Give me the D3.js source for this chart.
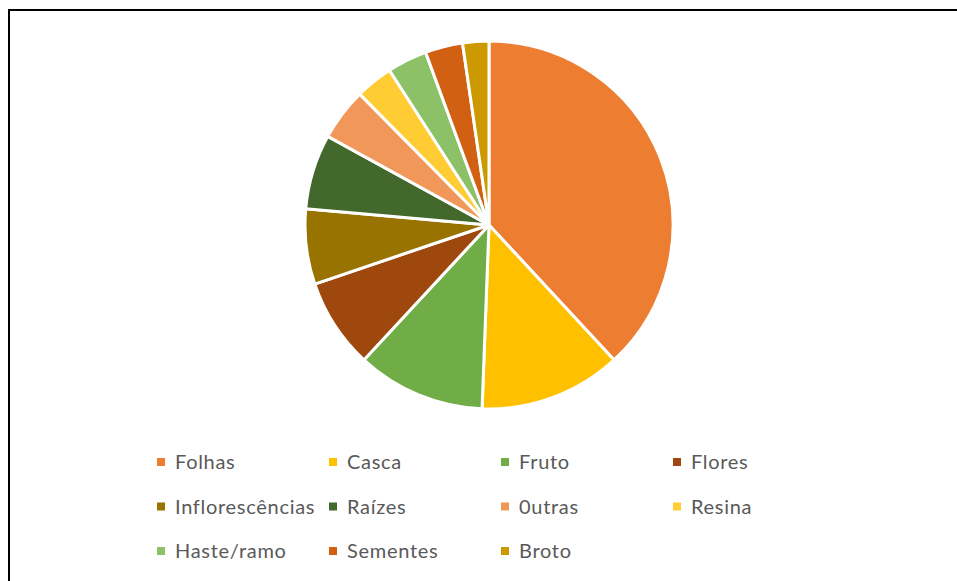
<!DOCTYPE html>
<html>
<head>
<meta charset="utf-8">
<script src="https://cdn.jsdelivr.net/npm/d3@7"></script>
<style>
  html, body { margin: 0; padding: 0; background: #fff; }
  svg { display: block; }
</style>
</head>
<body>
<svg id="chart" width="957" height="581"></svg>
<script>
// Plant parts (share of records, %)
const categories = ["Folhas", "Casca", "Fruto", "Flores", "Inflorescências", "Raízes",
                    "0utras", "Resina", "Haste/ramo", "Sementes", "Broto"];
const values = [38.1, 12.5, 11.3, 7.9, 6.6, 6.6, 4.6, 3.3, 3.5, 3.3, 2.3];
const colors = ["#ED7D31", "#FFC000", "#70AD47", "#9E480E", "#997300", "#43682B",
                "#F1975A", "#FFCD33", "#8CC168", "#D26012", "#CC9A00"];

const svg = d3.select("#chart");
const W = 957, H = 581;

// chart frame
svg.append("path")
  .attr("d", `M9,${H + 2} L9,10 L${W + 2},10`)
  .attr("fill", "none")
  .attr("stroke", "#000")
  .attr("stroke-width", 2);

// pie
const cx = 489, cy = 225, r = 184;
const pie = d3.pie().sort(null).value(d => d.v);
const arc = d3.arc().innerRadius(0).outerRadius(r);
const data = categories.map((c, i) => ({ c, v: values[i], col: colors[i] }));

svg.append("g")
  .attr("transform", `translate(${cx},${cy})`)
  .selectAll("path")
  .data(pie(data))
  .join("path")
  .attr("d", arc)
  .attr("fill", d => d.data.col)
  .attr("stroke", "#fff")
  .attr("stroke-width", 3)
  .attr("stroke-linejoin", "round");

// legend: 4 columns, 3 rows
const colX = d3.scaleLinear().domain([0, 1]).range([157, 329]);
const rowY = d3.scaleLinear().domain([0, 1]).range([462, 506.5]);
const leg = svg.append("g")
  .selectAll("g")
  .data(data)
  .join("g")
  .attr("transform", (d, i) => `translate(${colX(i % 4)},${rowY(Math.floor(i / 4))})`);

leg.append("rect")
  .attr("x", 0).attr("y", -4)
  .attr("width", 8).attr("height", 8)
  .attr("fill", d => d.col);

leg.append("text")
  .attr("x", 18).attr("y", 0)
  .attr("dy", "0.36em")
  .attr("font-family", "Lato, 'Open Sans', sans-serif")
  .attr("font-size", 20)
  .attr("letter-spacing", "0.7px")
  .attr("fill", "#595959")
  .text(d => d.c);
</script>
</body>
</html>
